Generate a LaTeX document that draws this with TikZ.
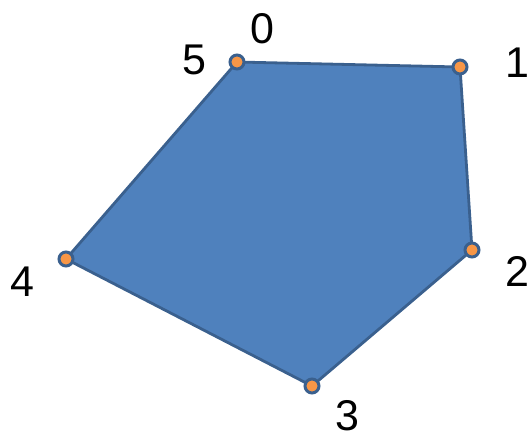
\documentclass[tikz,border=0pt]{standalone}
\usepackage{fontspec}
\setmainfont{Liberation Sans}
\usepackage{xcolor}
\usepackage{tikz}
\usetikzlibrary{positioning}

\definecolor{polyfill}{RGB}{79,129,189}
\definecolor{polyline}{RGB}{58,96,142}
\definecolor{vtxorange}{RGB}{247,150,70}

\tikzset{
  vtx/.style={circle, fill=vtxorange, draw=polyline, line width=3pt, inner sep=0pt, minimum size=14pt},
  lbl/.style={font=\fontsize{43}{48}\selectfont, inner sep=0pt}
}

\begin{document}
\begin{tikzpicture}[x=1pt, y=-1pt]
  \useasboundingbox (0,0) rectangle (531,439);

  % === SOMMETS ===
  \coordinate (p5) at (237,62);
  \coordinate (p1) at (460,67);
  \coordinate (p2) at (472,250);
  \coordinate (p3) at (312,386);
  \coordinate (p4) at (66,259);

  % Polygone
  \filldraw[fill=polyfill, draw=polyline, line width=2.8pt, line join=round]
    (p5) -- (p1) -- (p2) -- (p3) -- (p4) -- cycle;

  % Points
  \foreach \p in {5,1,2,3,4} {
    \node[vtx] (v\p) at (p\p) {};
  }

  % Etiquettes
  \node[lbl] (l0) at (262,29) {0};
  \node[lbl] (l5) at (194,60) {5};
  \node[lbl] (l1) at (517,63) {1};
  \node[lbl] (l2) at (517,271) {2};
  \node[lbl] (l3) at (347,416) {3};
  \node[lbl] (l4) at (22,282) {4};
\end{tikzpicture}
\end{document}
